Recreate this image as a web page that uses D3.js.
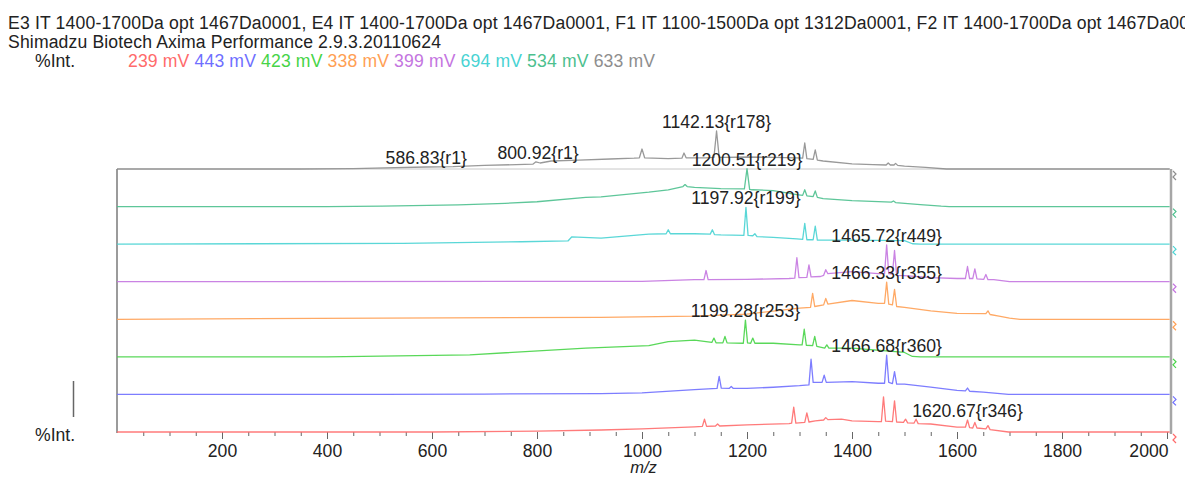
<!DOCTYPE html>
<html>
<head>
<meta charset="utf-8">
<script src="https://cdn.jsdelivr.net/npm/d3@7"></script>
<style>
    body { margin: 0; background: #fff; overflow: hidden; }
    svg text { font-family: "Liberation Sans", Arial, sans-serif; fill: #222; }
</style>
</head>
<body>
<div id="chart"></div>
<script>
// header texts
var titleLines = [
    "E3 IT 1400-1700Da opt 1467Da0001, E4 IT 1400-1700Da opt 1467Da0001, F1 IT 1100-1500Da opt 1312Da0001, F2 IT 1400-1700Da opt 1467Da0001",
    "Shimadzu Biotech Axima Performance 2.9.3.20110624"
];
var titleWidths = [1201, 433];

// series, bottom to top
var seriesNames = ["239 mV", "443 mV", "423 mV", "338 mV", "399 mV", "694 mV", "534 mV", "633 mV"];
var seriesColors = ["#ff6b6b", "#6f6fff", "#47d447", "#ffa054", "#c475e0", "#48d3d3", "#4cc08e", "#8e8e8e"];

// x ticks (m/z)
var majorTicks = [200, 400, 600, 800, 1000, 1200, 1400, 1600, 1800, 2000];
var minorTicks = d3.range(50, 2001, 50);

// [m/z, %Int]
var trace239 = [[0,0],[600,0],[800,2],[922,5],[1000,8],[1100,13],[1115,14],[1119,32],[1123,14],[1140,15],[1144,20],[1148,15],[1200,18],[1280,21],[1285,22],[1289,62],[1293,22],[1310,24],[1314,48],[1318,25],[1330,28],[1346,30],[1350,36],[1354,31],[1380,32],[1400,28],[1450,26],[1456,26],[1460,88],[1464,27],[1477,26],[1481,78],[1485,25],[1498,24],[1502,32],[1506,23],[1518,22],[1522,32],[1526,21],[1550,20],[1600,12],[1616,12],[1620,30],[1624,11],[1630,10],[1634,24],[1638,10],[1655,8],[1659,16],[1663,6],[1698,0],[2005,0]];
var trace443 = [[0,0],[500,0],[700,1],[922,2],[1000,4],[1100,12],[1143,15],[1147,45],[1151,16],[1166,15],[1170,20],[1174,15],[1200,15],[1250,18],[1300,22],[1318,24],[1322,88],[1326,30],[1343,30],[1347,48],[1351,30],[1400,32],[1450,28],[1462,28],[1466,98],[1470,30],[1477,27],[1481,57],[1485,26],[1500,26],[1550,18],[1600,10],[1616,9],[1620,16],[1624,8],[1650,6],[1698,0],[2005,0]];
var trace423 = [[0,0],[400,0],[672,5],[893,22],[1013,28],[1050,38],[1100,42],[1133,36],[1137,47],[1141,35],[1154,35],[1158,51],[1162,35],[1193,34],[1197,92],[1201,35],[1207,34],[1211,47],[1215,34],[1250,34],[1300,30],[1305,30],[1309,69],[1313,29],[1325,28],[1329,51],[1333,26],[1348,22],[1352,30],[1356,22],[1400,22],[1500,11],[1515,1],[1530,0],[2005,0]];
var trace338 = [[0,0],[922,5],[1100,8],[1200,13],[1300,28],[1321,30],[1325,65],[1329,32],[1346,36],[1350,52],[1354,38],[1400,47],[1450,40],[1462,40],[1466,93],[1470,38],[1477,36],[1481,75],[1485,32],[1500,30],[1550,21],[1600,15],[1655,14],[1659,21],[1663,12],[1680,8],[1700,3],[1720,0],[2005,0]];
var trace399 = [[0,0],[1000,1],[1100,5],[1118,5],[1122,28],[1126,5],[1200,6],[1280,8],[1291,9],[1295,60],[1299,10],[1314,11],[1318,42],[1322,12],[1340,13],[1346,16],[1350,30],[1354,20],[1400,25],[1450,20],[1462,20],[1466,92],[1470,20],[1477,19],[1481,78],[1485,16],[1500,15],[1550,10],[1600,8],[1616,8],[1620,38],[1624,8],[1630,8],[1634,32],[1638,7],[1651,6],[1655,18],[1659,5],[1670,5],[1700,0],[2005,0]];
var trace694 = [[0,0],[545,2],[770,6],[859,8],[866,18],[922,15],[1013,25],[1046,26],[1050,36],[1054,26],[1100,26],[1130,25],[1134,36],[1138,24],[1150,23],[1194,22],[1198,92],[1202,22],[1211,21],[1215,26],[1219,19],[1250,17],[1295,13],[1306,12],[1310,52],[1314,11],[1326,11],[1330,45],[1334,10],[1350,10],[1400,10],[1500,9],[1515,1],[1530,0],[2005,0]];
var trace534 = [[0,0],[400,0],[505,1],[650,4],[739,8],[800,12],[893,23],[922,24],[1013,36],[1050,42],[1078,50],[1082,55],[1086,50],[1100,48],[1150,45],[1195,44],[1200,95],[1205,43],[1210,42],[1250,40],[1295,30],[1306,28],[1310,42],[1314,27],[1326,25],[1330,39],[1334,23],[1345,20],[1400,15],[1475,11],[1479,14],[1483,10],[1530,5],[1570,1],[1585,0],[2005,0]];
var trace633 = [[0,0],[350,0],[450,1],[589,5],[640,6],[700,9],[792,12],[798,18],[806,15],[827,20],[880,22],[939,25],[985,27],[995,28],[1000,50],[1005,28],[1050,26],[1076,27],[1080,40],[1084,28],[1100,28],[1120,28],[1137,29],[1142,95],[1147,29],[1160,29],[1200,30],[1250,29],[1295,28],[1306,27],[1310,65],[1314,26],[1326,24],[1330,48],[1334,22],[1345,20],[1400,13],[1440,11],[1465,10],[1469,15],[1473,10],[1480,10],[1483,14],[1487,9],[1500,7],[1540,4],[1580,0],[2005,0]];

var traces = [trace239, trace443, trace423, trace338, trace399, trace694, trace534, trace633];

// peak labels: series index, m/z, text
var labelSeries = [7, 7, 7, 6, 5, 4, 3, 2, 1, 0];
var labelMz = [589, 802, 1142, 1200, 1198, 1466, 1466, 1197, 1466, 1620];
var labelText = ["586.83{r1}", "800.92{r1}", "1142.13{r178}", "1200.51{r219}", "1197.92{r199}",
    "1465.72{r449}", "1466.33{r355}", "1199.28{r253}", "1466.68{r360}", "1620.67{r346}"];

makeChart();

function makeChart() {
    // STEP 1: canvas
    var svgWidth = 1185;
    var svgHeight = 477;
    var fontSize = 17.6;

    var svg = d3.select("#chart")
        .append("svg")
        .attr("width", svgWidth)
        .attr("height", svgHeight);

    // STEP 2: scales
    var xScale = d3.scaleLinear()
        .domain([0, 2005.7])
        .range([117, 1170]);

    // baseline of each stacked trace
    var baseScale = d3.scaleLinear()
        .domain([0, seriesNames.length - 1])
        .range([432, 169]);

    // %Int -> pixels above baseline
    var hScale = d3.scaleLinear()
        .domain([0, 100])
        .range([0, 40]);

    // STEP 3: header
    svg.append("g")
        .selectAll("text")
        .data(titleLines)
        .enter()
        .append("text")
        .attr("x", 8)
        .attr("y", (d, i) => 29 + i * 18.6)
        .attr("font-size", fontSize)
        .attr("textLength", (d, i) => titleWidths[i])
        .attr("lengthAdjust", "spacing")
        .text(d => d);

    svg.append("text")
        .attr("x", 35)
        .attr("y", 66.5)
        .attr("font-size", fontSize)
        .text("%Int.");

    var legend = svg.append("text")
        .attr("x", 128)
        .attr("y", 66.5)
        .attr("font-size", fontSize)
        .attr("textLength", 527)
        .attr("lengthAdjust", "spacing");

    legend.selectAll("tspan")
        .data(seriesNames)
        .enter()
        .append("tspan")
        .style("fill", (d, i) => seriesColors[i])
        .text((d, i) => (i > 0 ? " " : "") + d);

    // STEP 4: frame
    svg.append("line")
        .attr("x1", xScale(0)).attr("x2", xScale(2005.7))
        .attr("y1", baseScale(7)).attr("y2", baseScale(7))
        .attr("stroke", "#c8c8c8")
        .attr("stroke-width", 1);

    svg.append("line")
        .attr("x1", xScale(0)).attr("x2", xScale(0))
        .attr("y1", baseScale(7)).attr("y2", baseScale(0) + 1)
        .attr("stroke", "#7a7a7a")
        .attr("stroke-width", 1.5);

    svg.append("line")
        .attr("x1", xScale(2005.7) + 1).attr("x2", xScale(2005.7) + 1)
        .attr("y1", baseScale(7)).attr("y2", baseScale(0) + 2)
        .attr("stroke", "#a6a6a6")
        .attr("stroke-width", 2.5);

    // STEP 5: x axis
    var minorAxis = d3.axisBottom(xScale)
        .tickValues(minorTicks)
        .tickSize(4)
        .tickFormat("");

    var majorAxis = d3.axisBottom(xScale)
        .tickValues(majorTicks)
        .tickSize(7)
        .tickPadding(6)
        .tickFormat(d3.format("d"));

    var gMinor = svg.append("g")
        .attr("transform", `translate(0, ${baseScale(0)})`)
        .call(minorAxis);

    var gMajor = svg.append("g")
        .attr("transform", `translate(0, ${baseScale(0)})`)
        .call(majorAxis);

    [gMinor, gMajor].forEach(function(g) {
        g.select(".domain").remove();
        g.selectAll(".tick line").attr("stroke", "#666");
    });

    gMajor.selectAll(".tick text")
        .attr("font-size", fontSize)
        .attr("font-family", null)
        .style("fill", "#222");

    // the last label is pulled inside the frame
    gMajor.selectAll(".tick text")
        .filter(d => d === 2000)
        .attr("text-anchor", "end")
        .attr("x", 1);

    svg.append("text")
        .attr("x", (xScale(0) + xScale(2005.7)) / 2)
        .attr("y", 473)
        .attr("text-anchor", "middle")
        .attr("font-size", 16.5)
        .attr("font-style", "italic")
        .text("m/z");

    svg.append("text")
        .attr("x", 35)
        .attr("y", 441)
        .attr("font-size", fontSize)
        .text("%Int.");

    svg.append("line")
        .attr("x1", 73.5).attr("x2", 73.5)
        .attr("y1", 381).attr("y2", 417)
        .attr("stroke", "#666")
        .attr("stroke-width", 1.5);

    // STEP 6: traces
    var traceGroup = svg.append("g");

    traces.forEach(function(trace, i) {
        var line = d3.line()
            .x(d => xScale(d[0]))
            .y(d => baseScale(i) - hScale(d[1]));

        traceGroup.append("path")
            .datum(trace)
            .attr("d", line)
            .attr("fill", "none")
            .attr("stroke", seriesColors[i])
            .attr("stroke-width", 1.3)
            .attr("stroke-linejoin", "round")
            .style("opacity", 0.9);

        // little offset marker right of the frame
        traceGroup.append("path")
            .attr("d", `M${xScale(2005.7) + 3},${baseScale(i) + 2} l3,3 l-3,3 l3,3`)
            .attr("fill", "none")
            .attr("stroke", seriesColors[i])
            .attr("stroke-width", 1.2);
    });

    // STEP 7: peak labels
    svg.append("g")
        .selectAll("text")
        .data(labelText)
        .enter()
        .append("text")
        .attr("x", (d, i) => xScale(labelMz[i]))
        .attr("y", function(d, i) {
            var s = labelSeries[i];
            var near = traces[s].filter(p => Math.abs(p[0] - labelMz[i]) <= 6);
            var top = d3.max(near, p => p[1]) || 0;
            return baseScale(s) - hScale(top) - 3;
        })
        .attr("text-anchor", "middle")
        .attr("font-size", fontSize)
        .text(d => d);
}
</script>
</body>
</html>
